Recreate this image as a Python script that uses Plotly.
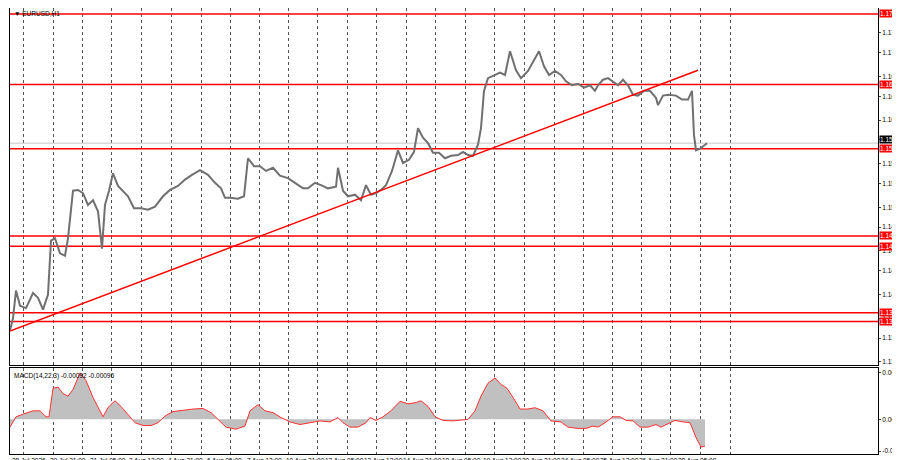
import plotly.graph_objects as go

# bar positions (chart x units) and EURUSD H1 closes
bar_pos = [2,5,8,12,18,25,30,35,40,43,47,52,57,60,65,70,75,80,85,90,94,97,101,105,110,115,120,126,133,140,147,155,162,170,177,184,192,200,207,213,217,222,230,236,240,246,252,258,265,272,280,287,295,300,307,313,320,328,330,335,340,347,353,358,363,368,373,378,384,390,395,401,406,410,415,420,425,431,437,443,450,455,460,465,470,473,476,480,486,492,497,502,508,513,520,527,531,536,541,547,553,558,564,570,576,582,587,590,595,600,605,610,615,620,625,630,636,642,648,650,655,661,668,674,680,684,686,688,692,695,699]
close = [1.1355,1.1370,1.1405,1.1386,1.1383,1.1402,1.1396,1.1381,1.1400,1.1468,1.1471,1.1452,1.1449,1.1471,1.1531,1.1532,1.1528,1.1513,1.1519,1.1505,1.1458,1.1513,1.1531,1.1553,1.1537,1.1531,1.1524,1.1509,1.1509,1.1507,1.1511,1.1524,1.1532,1.1537,1.1545,1.1551,1.1557,1.1551,1.1541,1.1534,1.1522,1.1522,1.1521,1.1524,1.1572,1.1562,1.1562,1.1556,1.1560,1.1550,1.1547,1.1541,1.1534,1.1534,1.1541,1.1538,1.1534,1.1536,1.1560,1.1531,1.1524,1.1526,1.1519,1.1538,1.1526,1.1528,1.1532,1.1538,1.1556,1.1582,1.1566,1.1570,1.1580,1.1610,1.1598,1.1591,1.1579,1.1579,1.1572,1.1575,1.1576,1.1580,1.1576,1.1575,1.1589,1.1610,1.1657,1.1673,1.1677,1.1680,1.1677,1.1707,1.1683,1.1673,1.1682,1.1698,1.1707,1.1688,1.1677,1.1682,1.1677,1.1669,1.1664,1.1666,1.1661,1.1664,1.1657,1.1664,1.1671,1.1673,1.1669,1.1664,1.1671,1.1664,1.1652,1.1651,1.1657,1.1657,1.1648,1.1639,1.1651,1.1652,1.1651,1.1646,1.1646,1.1657,1.1601,1.1582,1.1584,1.1587,1.1591]

macd_pos = [2,8,15,25,32,38,41,45,50,55,60,65,72,78,85,90,95,100,107,113,120,127,135,143,150,157,165,175,185,195,203,210,218,228,237,242,250,257,265,273,282,292,302,312,322,330,335,342,350,358,362,368,375,383,392,400,408,413,420,427,435,445,450,460,467,473,480,487,493,499,505,512,520,527,535,543,553,560,570,578,585,590,597,605,612,618,625,632,640,648,653,660,667,675,682,688,693,697]
macd = [-0.0003,0.0001,0.0002,0.00033,0.00033,0.0001,0.0001,0.0012,0.00125,0.0010,0.0009,0.00115,0.0018,0.0015,0.00085,0.00046,0.0001,0.00046,0.00072,0.0005,0.0002,-0.00013,-0.00024,-0.00024,-0.00013,0.00013,0.0003,0.00035,0.0004,0.00042,0.00026,0.0,-0.0003,-0.00038,-0.00026,0.00033,0.00057,0.00033,0.00026,0.00007,-0.0001,-0.0002,-0.00013,-0.00006,-0.0001,0.00007,-0.00013,-0.0003,-0.0003,-0.00013,0.00007,-0.00004,0.0001,0.00033,0.0007,0.0006,0.00065,0.00072,0.0005,0.0001,-0.00004,-0.00006,-0.00004,0.0,0.00033,0.0009,0.0014,0.0016,0.00135,0.0012,0.00085,0.0004,0.0004,0.00045,0.00033,-0.00006,-0.0001,-0.0003,-0.00035,-0.00035,-0.00026,-0.0003,-0.00013,0.0001,0.0001,-0.00004,-0.00006,-0.0003,-0.0003,-0.0002,-0.0003,-0.00017,-0.00004,-0.0001,-0.00013,-0.0007,-0.00107,-0.00103]

levels = [1.1754, 1.1665, 1.1584, 1.1474, 1.1461, 1.1377, 1.1366]
current_price = 1.1591
trend_x = [2, 690]
trend_y = [1.1354, 1.1683]

price_ticks = [1.1730,1.1705,1.1675,1.1650,1.1620,1.1595,1.1565,1.1540,1.1510,1.1485,1.1455,1.1430,1.1400,1.1370,1.1345,1.1315]
price_tick_text = ["1.1730","1.1705","1.1675","1.1650","1.1620","1.1595","1.1565","1.1540","1.1510","1.1485","1.1455","1.1430","1.1400","1.1370","1.1345","1.1315"]
macd_ticks = [0.0018, 0.0, -0.00123]
macd_tick_text = ["0.0018", "0.00", "-0.00123"]
grid_pos = [15,45,74,103,133,163,193,222,251,280,309,339,368,398,427,457,486,516,546,575,604,633,662,692,722]
time_pos = [2,40,80,119,158,197,237,276,315,354,393,432,473,512,551,590,629,668]
time_labels = ["28 Jul 2026","29 Jul 21:00","31 Jul 05:00","3 Aug 13:00","4 Aug 21:00","6 Aug 05:00","7 Aug 13:00","10 Aug 21:00","12 Aug 05:00","13 Aug 13:00","14 Aug 21:00","18 Aug 05:00","19 Aug 13:00","20 Aug 21:00","24 Aug 05:00","25 Aug 13:00","26 Aug 21:00","28 Aug 05:00"]

F = dict(family="Liberation Sans", size=6.5, color="black")
FL = dict(family="Liberation Sans", size=6.5, color="white")
fig = go.Figure()
for lv in levels:
    fig.add_trace(go.Scatter(x=[2, 870], y=[lv, lv], mode="lines", line=dict(color="red", width=1.5),
                             xaxis="x", yaxis="y", hoverinfo="skip"))
fig.add_trace(go.Scatter(x=[2, 870], y=[current_price]*2, mode="lines", line=dict(color="#c8c8c8", width=1), xaxis="x", yaxis="y"))
fig.add_trace(go.Scatter(x=bar_pos, y=close, mode="lines", line=dict(color="#707070", width=2), xaxis="x", yaxis="y"))
fig.add_trace(go.Scatter(x=trend_x, y=trend_y, mode="lines", line=dict(color="red", width=1.5), xaxis="x", yaxis="y"))
fig.add_trace(go.Scatter(x=macd_pos, y=macd, mode="lines", fill="tozeroy", fillcolor="#c0c0c0",
                         line=dict(color="#c0c0c0", width=0), xaxis="x2", yaxis="y2"))
fig.add_trace(go.Scatter(x=macd_pos, y=macd, mode="lines", line=dict(color="#ff3030", width=1), xaxis="x2", yaxis="y2"))

ax = dict(range=[2, 870], tickvals=grid_pos, showticklabels=False, showgrid=True, griddash="dot",
          gridcolor="#555", gridwidth=1, zeroline=False, showline=True, linecolor="black", mirror=True, ticks="")
fig.update_layout(
    width=900, height=460, margin=dict(l=2, r=30, t=0, b=14, autoexpand=False),
    plot_bgcolor="white", paper_bgcolor="white", showlegend=False, font=F,
    xaxis=dict(**ax, domain=[0, 1], anchor="y"),
    xaxis2=dict(**ax, domain=[0, 1], anchor="y2"),
    yaxis=dict(domain=[0.1996, 1], range=[1.13112, 1.17615], side="right", tickvals=price_ticks,
               ticktext=price_tick_text, showgrid=False, zeroline=False, showline=True, linecolor="black",
               mirror=True, ticks="outside", ticklen=2, tickfont=F, automargin=False),
    yaxis2=dict(domain=[0, 0.193], range=[-0.00134, 0.00199], side="right", tickvals=macd_ticks,
                ticktext=macd_tick_text, showgrid=False, zeroline=False, showline=True, linecolor="black",
                mirror=True, ticks="outside", ticklen=2, tickfont=F, automargin=False),
)
for lv in levels:
    fig.add_annotation(x=1, xref="paper", y=lv, yref="y", text=f"{lv:.4f}", showarrow=False,
                       xanchor="left", bgcolor="red", font=FL, borderpad=0, xshift=1)
fig.add_annotation(x=1, xref="paper", y=current_price, yref="y", text=f"{current_price:.4f}", showarrow=False,
                   xanchor="left", bgcolor="black", font=FL, borderpad=0, xshift=1, yshift=4)
for p, t in zip(time_pos, time_labels):
    fig.add_annotation(x=p, xref="x", y=0, yref="paper", yanchor="top", xanchor="left", text=t,
                       showarrow=False, font=F, yshift=-1)
fig.add_annotation(x=4, xref="x", y=1, yref="paper", yanchor="top", xanchor="left", text="▼ EURUSD,H1",
                   showarrow=False, font=F)
fig.add_annotation(x=4, xref="x", y=0.193, yref="paper", yanchor="top", xanchor="left",
                   text="MACD(14,22,3) -0.00092 -0.00096", showarrow=False, font=F, yshift=-2)
fig.write_html("out.html")
